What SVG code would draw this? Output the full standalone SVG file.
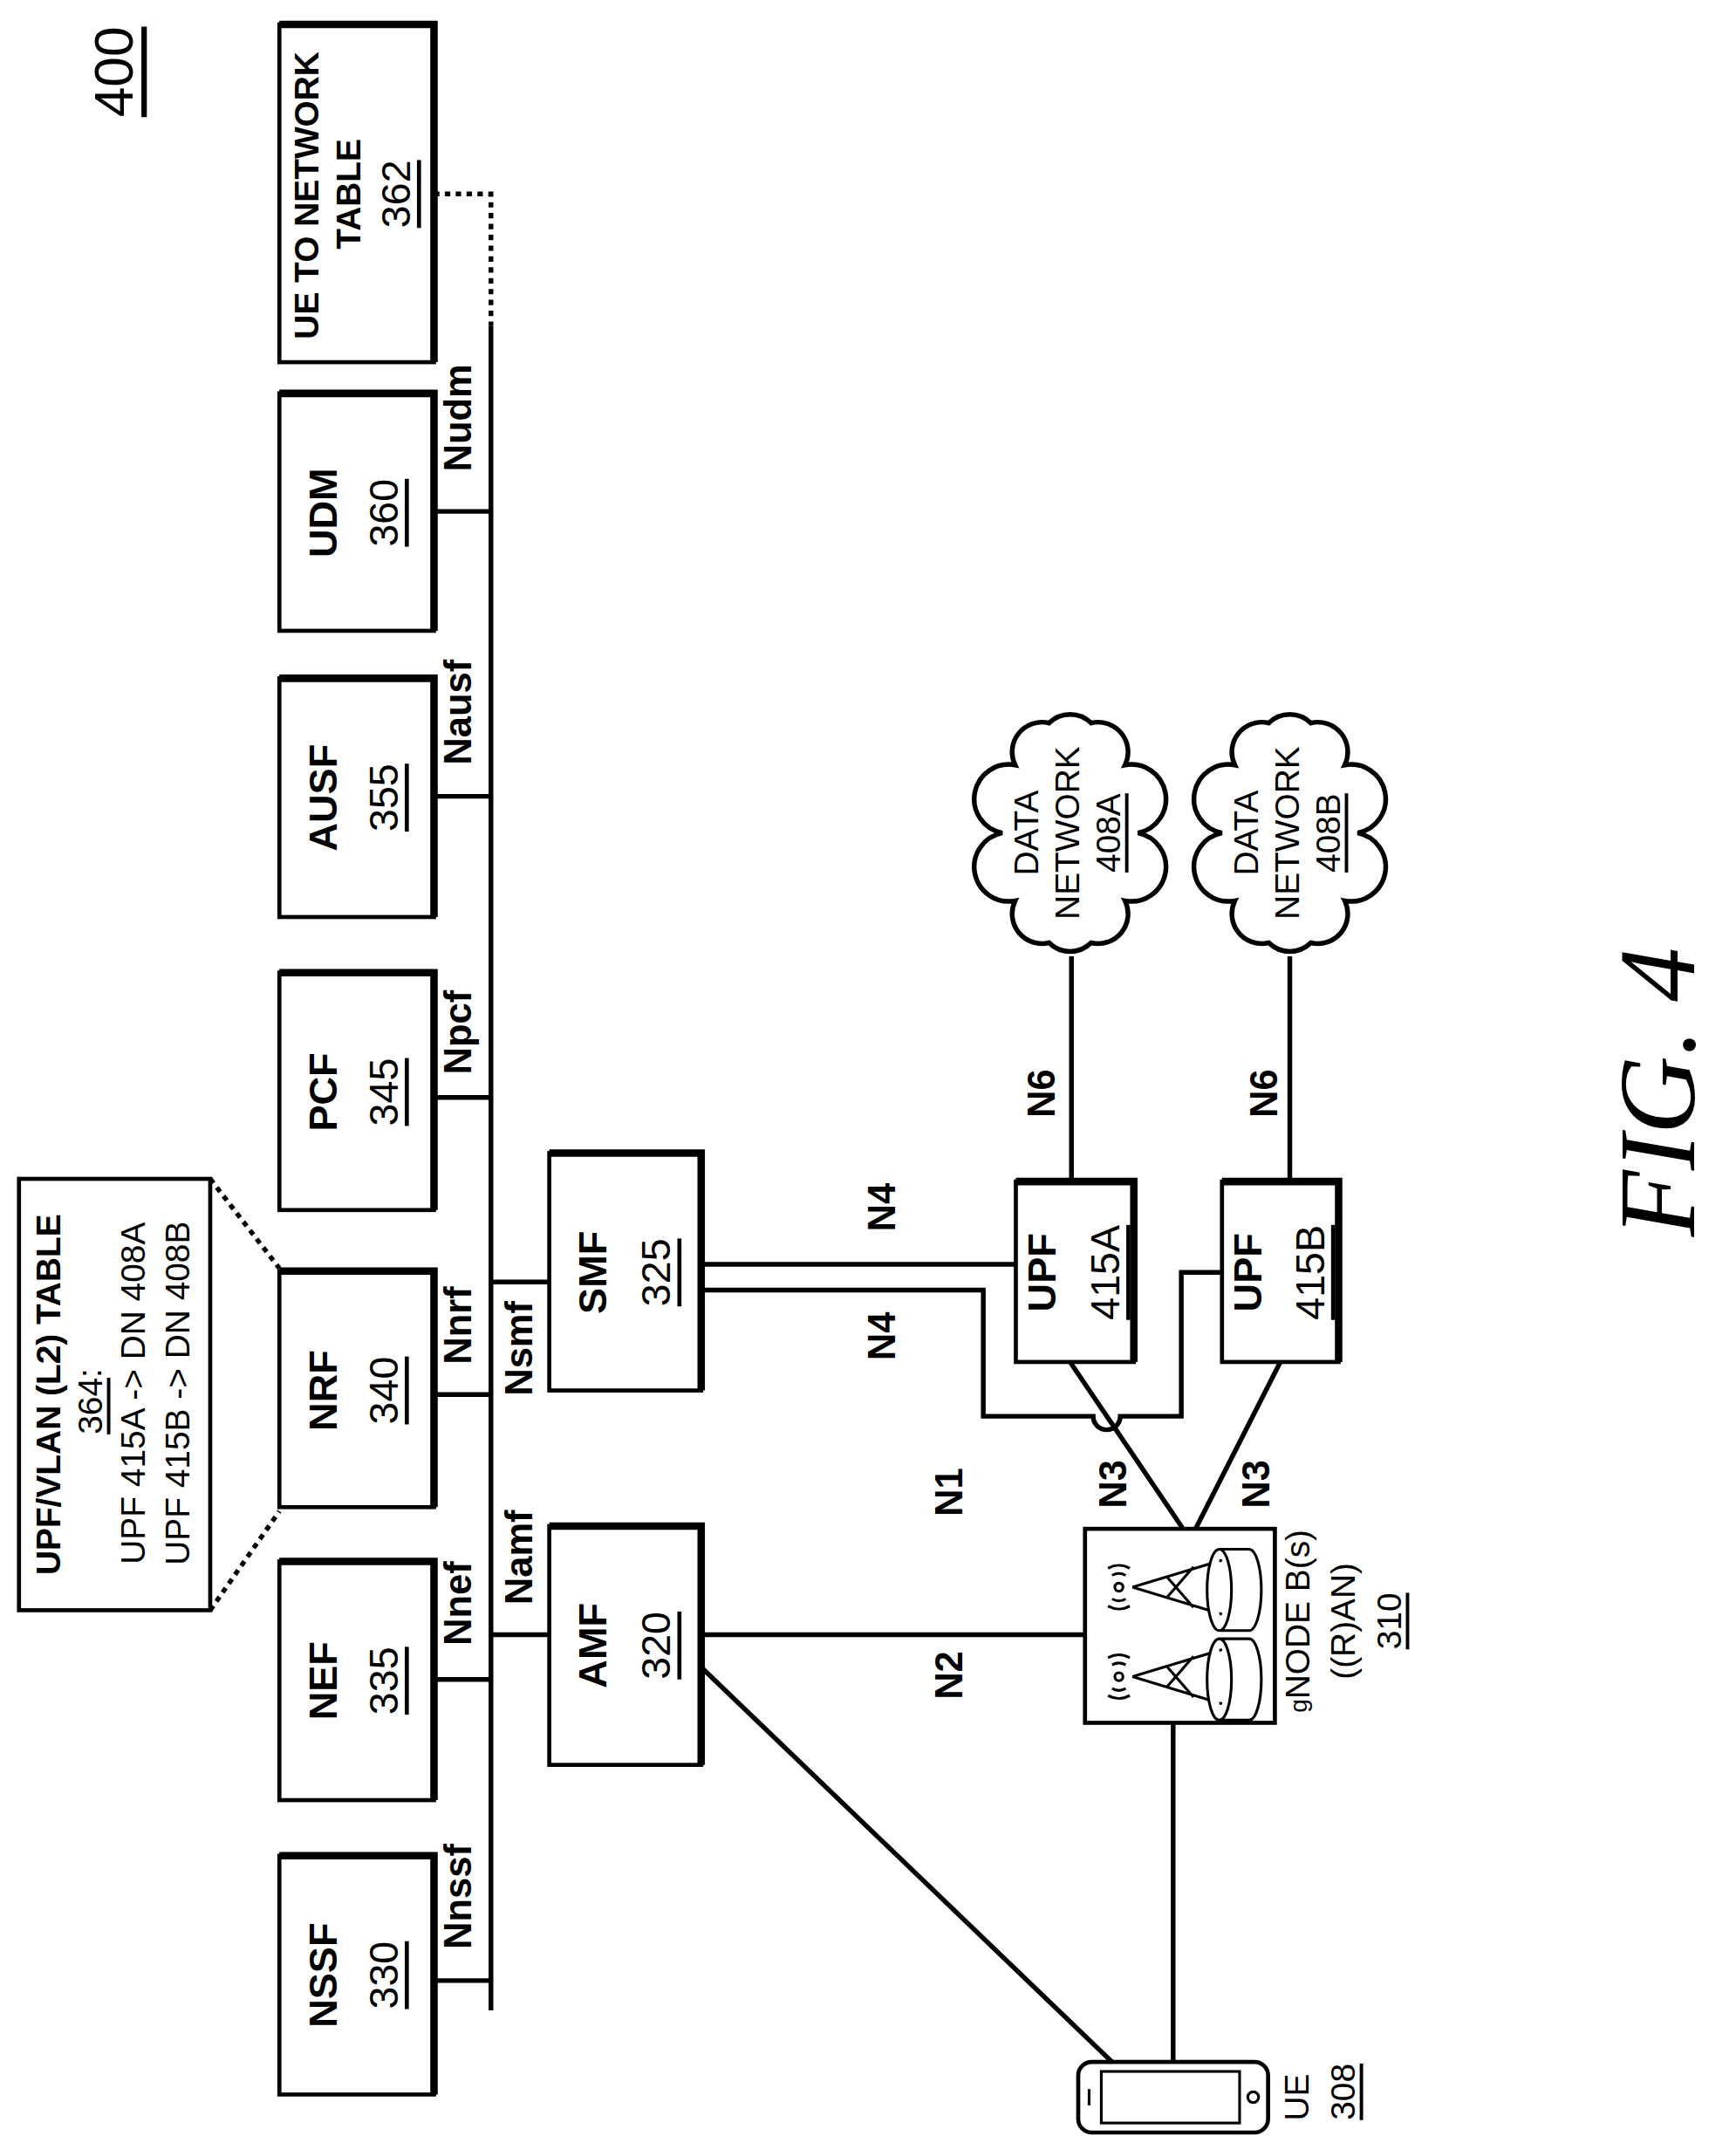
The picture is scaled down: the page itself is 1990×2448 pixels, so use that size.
<svg xmlns="http://www.w3.org/2000/svg" width="1990" height="2448" viewBox="0 0 1990 2448">
<style>
text{font-family:"Liberation Sans",Arial,sans-serif;text-anchor:middle;dominant-baseline:central;fill:#000}
.b{font-weight:bold;font-size:29px}
.n{font-size:30px}
.l{font-weight:bold;font-size:28px}
.t{font-size:25px}
.c{font-size:25px}
.u{text-decoration:underline}
.box{fill:#fff;stroke:#000;stroke-width:3}
.sh{fill:none;stroke:#000;stroke-width:5.5}
.ln{fill:none;stroke:#000;stroke-width:3.5}
.dot{fill:none;stroke:#000;stroke-width:3.5;stroke-dasharray:4 4}
</style>
<rect width="1990" height="2448" fill="#fff"/>
<g transform="scale(1.5547)">
<text class="n u" style="font-size:40px" transform="translate(84,53) rotate(-90)">400</text>
<g id="connectors">
<line class="ln" x1="362" y1="240" x2="362" y2="1482"/>
<polyline class="dot" points="320,143 362,143 362,240"/>
<line class="ln" x1="320" y1="377" x2="362" y2="377"/>
<line class="ln" x1="320" y1="587" x2="362" y2="587"/>
<line class="ln" x1="320" y1="809" x2="362" y2="809"/>
<line class="ln" x1="320" y1="1028" x2="362" y2="1028"/>
<line class="ln" x1="320" y1="1238" x2="362" y2="1238"/>
<line class="ln" x1="320" y1="1460" x2="362" y2="1460"/>
<line class="ln" x1="362" y1="945" x2="405" y2="945"/>
<line class="ln" x1="362" y1="1205" x2="405" y2="1205"/>
<line class="dot" x1="155" y1="869" x2="206" y2="935"/>
<line class="dot" x1="155" y1="1187" x2="206" y2="1114"/>
<line class="ln" x1="517" y1="932" x2="749" y2="932"/>
<path class="ln" d="M517 951 H725 V1044 H806 A10 10 0 0 0 826 1044 H871 V938 H901"/>
<line class="ln" x1="517" y1="1205" x2="800" y2="1205"/>
<line class="ln" x1="517" y1="1229" x2="822" y2="1522"/>
<line class="ln" x1="789" y1="1004" x2="873" y2="1128"/>
<line class="ln" x1="944" y1="1004" x2="881" y2="1128"/>
<line class="ln" x1="790" y1="705" x2="790" y2="871"/>
<line class="ln" x1="951" y1="705" x2="951" y2="871"/>
<line class="ln" x1="865" y1="1270" x2="865" y2="1520"/>
<text class="l" transform="translate(338,308) rotate(-90)">Nudm</text>
<text class="l" transform="translate(338,525) rotate(-90)">Nausf</text>
<text class="l" transform="translate(338,761) rotate(-90)">Npcf</text>
<text class="l" transform="translate(338,977) rotate(-90)">Nnrf</text>
<text class="l" transform="translate(338,1182) rotate(-90)">Nnef</text>
<text class="l" transform="translate(338,1398) rotate(-90)">Nnssf</text>
<text class="l" transform="translate(383,994) rotate(-90)">Nsmf</text>
<text class="l" transform="translate(383,1148) rotate(-90)">Namf</text>
<text class="l" transform="translate(650,890) rotate(-90)">N4</text>
<text class="l" transform="translate(650,985) rotate(-90)">N4</text>
<text class="l" transform="translate(768,806) rotate(-90)">N6</text>
<text class="l" transform="translate(932,806) rotate(-90)">N6</text>
<text class="l" transform="translate(821,1094) rotate(-90)">N3</text>
<text class="l" transform="translate(926,1094) rotate(-90)">N3</text>
<text class="l" transform="translate(700,1235) rotate(-90)">N2</text>
<text class="l" transform="translate(700,1100) rotate(-90)">N1</text>
</g>
<g id="ue-table">
<rect class="box" x="206" y="18" width="114" height="249"/><polyline class="sh" points="206,18 320,18 320,267"/>
<text class="b" style="font-size:25px" transform="translate(226,144) rotate(-90)">UE TO NETWORK</text>
<text class="b" style="font-size:25px" transform="translate(257,143) rotate(-90)">TABLE</text>
<text class="n u" transform="translate(292,143) rotate(-90)">362</text>
</g>
<g id="udm"><rect class="box" x="206" y="290" width="114" height="175"/><polyline class="sh" points="206,290 320,290 320,465"/>
<text class="b" transform="translate(238,378) rotate(-90)">UDM</text><text class="n u" transform="translate(283,378) rotate(-90)">360</text></g>
<g id="ausf"><rect class="box" x="206" y="500" width="114" height="176"/><polyline class="sh" points="206,500 320,500 320,676"/>
<text class="b" transform="translate(238,588) rotate(-90)">AUSF</text><text class="n u" transform="translate(283,588) rotate(-90)">355</text></g>
<g id="pcf"><rect class="box" x="206" y="717" width="114" height="175"/><polyline class="sh" points="206,717 320,717 320,892"/>
<text class="b" transform="translate(238,805) rotate(-90)">PCF</text><text class="n u" transform="translate(283,805) rotate(-90)">345</text></g>
<g id="nrf"><rect class="box" x="206" y="937" width="114" height="174"/><polyline class="sh" points="206,937 320,937 320,1111"/>
<text class="b" transform="translate(238,1025) rotate(-90)">NRF</text><text class="n u" transform="translate(283,1025) rotate(-90)">340</text></g>
<g id="nef"><rect class="box" x="206" y="1151" width="114" height="176"/><polyline class="sh" points="206,1151 320,1151 320,1327"/>
<text class="b" transform="translate(238,1239) rotate(-90)">NEF</text><text class="n u" transform="translate(283,1239) rotate(-90)">335</text></g>
<g id="nssf"><rect class="box" x="206" y="1368" width="114" height="176"/><polyline class="sh" points="206,1368 320,1368 320,1544"/>
<text class="b" transform="translate(238,1456) rotate(-90)">NSSF</text><text class="n u" transform="translate(283,1456) rotate(-90)">330</text></g>
<g id="upf-vlan-table"><rect class="box" x="14" y="869" width="141" height="318"/>
<text class="b" style="font-size:25px" transform="translate(36,1028) rotate(-90)">UPF/VLAN (L2) TABLE</text>
<text class="t" transform="translate(66,1033) rotate(-90)"><tspan class="u">364</tspan>:</text>
<text class="t" transform="translate(98,1027) rotate(-90)">UPF 415A -&gt; DN 408A</text>
<text class="t" transform="translate(131,1027) rotate(-90)">UPF 415B -&gt; DN 408B</text></g>
<g id="smf"><rect class="box" x="405" y="850" width="112" height="175"/><polyline class="sh" points="405,850 517,850 517,1025"/>
<text class="b" transform="translate(437,938) rotate(-90)">SMF</text><text class="n u" transform="translate(484,938) rotate(-90)">325</text></g>
<g id="amf"><rect class="box" x="405" y="1125" width="112" height="176"/><polyline class="sh" points="405,1125 517,1125 517,1301"/>
<text class="b" transform="translate(437,1213) rotate(-90)">AMF</text><text class="n u" transform="translate(484,1213) rotate(-90)">320</text></g>
<g id="upf-a"><rect class="box" x="749" y="871" width="87" height="133"/><polyline class="sh" points="749,871 836,871 836,1004"/>
<text class="b" transform="translate(768,938) rotate(-90)">UPF</text><text class="n u" transform="translate(815,938) rotate(-90)">415A</text></g>
<g id="upf-b"><rect class="box" x="901" y="871" width="86" height="133"/><polyline class="sh" points="901,871 987,871 987,1004"/>
<text class="b" transform="translate(920,938) rotate(-90)">UPF</text><text class="n u" transform="translate(966,938) rotate(-90)">415B</text></g>
<defs>
<path id="cloud" d="M50 0 A22 22 0 0 1 40.5 50 A22 22 0 0 1 15.5 81 A22 22 0 0 1 -15.5 81 A22 22 0 0 1 -40.5 50 A22 22 0 0 1 -50 0 A22 22 0 0 1 -40.5 -50 A22 22 0 0 1 -15.5 -81 A22 22 0 0 1 15.5 -81 A22 22 0 0 1 40.5 -50 A22 22 0 0 1 50 0 Z" fill="#fff" stroke="#000" stroke-width="3.5"/>
</defs>
<g id="dn-a">
<use href="#cloud" x="789" y="614"/>
<text class="c" transform="translate(757,614) rotate(-90)">DATA</text>
<text class="c" transform="translate(787,614) rotate(-90)">NETWORK</text>
<text class="c u" transform="translate(817,614) rotate(-90)">408A</text></g>
<g id="dn-b">
<use href="#cloud" x="951" y="614"/>
<text class="c" transform="translate(919,614) rotate(-90)">DATA</text>
<text class="c" transform="translate(949,614) rotate(-90)">NETWORK</text>
<text class="c u" transform="translate(979,614) rotate(-90)">408B</text></g>
<g id="gnb">
<rect class="box" x="800" y="1127" width="140" height="143"/>
<g stroke="#000" stroke-width="2" fill="none">
<path d="M835 1170 L901 1150 M835 1170 L901 1190 M860 1162 L880 1185 M860 1178 L880 1155"/>
<path d="M835 1236 L901 1216 M835 1236 L901 1256 M860 1228 L880 1251 M860 1244 L880 1221"/>
<circle cx="825" cy="1170" r="3"/><circle cx="825" cy="1236" r="3"/>
<path d="M830 1178.7 A10 10 0 0 1 820 1178.7 M833 1183.9 A16 16 0 0 1 817 1183.9 M820 1161.3 A10 10 0 0 1 830 1161.3 M817 1156.1 A16 16 0 0 1 833 1156.1"/>
<path d="M830 1244.7 A10 10 0 0 1 820 1244.7 M833 1249.9 A16 16 0 0 1 817 1249.9 M820 1227.3 A10 10 0 0 1 830 1227.3 M817 1222.1 A16 16 0 0 1 833 1222.1"/>
<path d="M899 1142 A9 30 0 0 0 899 1202 H921 A9 30 0 0 0 921 1142 Z M899 1142 A9 30 0 0 1 899 1202" fill="#fff"/>
<path d="M899 1208 A9 30 0 0 0 899 1268 H921 A9 30 0 0 0 921 1208 Z M899 1208 A9 30 0 0 1 899 1268" fill="#fff"/>
</g>
<text class="c" transform="translate(957,1195) rotate(-90)"><tspan style="font-size:18px">g</tspan>NODE B(s)</text>
<text class="c" transform="translate(990,1195) rotate(-90)">((R)AN)</text>
<text class="c u" transform="translate(1024,1195) rotate(-90)">310</text></g>
<g id="ue">
<rect x="795" y="1520" width="140" height="52" rx="10" fill="#fff" stroke="#000" stroke-width="3"/>
<rect x="812" y="1527" width="102" height="38" fill="none" stroke="#000" stroke-width="2"/>
<circle cx="924" cy="1546" r="4" fill="none" stroke="#000" stroke-width="2"/>
<line x1="803" y1="1540" x2="803" y2="1552" stroke="#000" stroke-width="2"/>
<text class="c" transform="translate(956,1546) rotate(-90)">UE</text>
<text class="c u" transform="translate(990,1542) rotate(-90)">308</text></g>
<text style="font-family:'Liberation Serif',serif;font-style:italic;font-size:80px" transform="translate(1222,805) rotate(-90)">FIG. 4</text>
</g>
</svg>
